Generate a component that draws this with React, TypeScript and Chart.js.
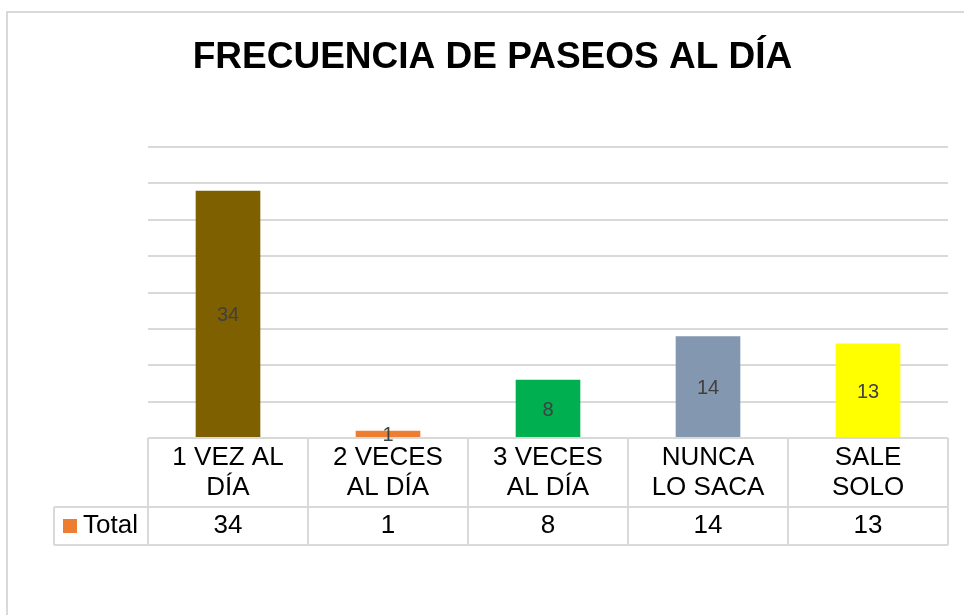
import React, { useEffect, useRef } from "react";
import { Chart, registerables } from "chart.js";

Chart.register(...registerables);

const TITLE = "FRECUENCIA DE PASEOS AL DÍA";
const categories: string[][] = [
  ["1 VEZ AL", "DÍA"],
  ["2 VECES", "AL DÍA"],
  ["3 VECES", "AL DÍA"],
  ["NUNCA", "LO SACA"],
  ["SALE", "SOLO"],
];
const seriesName = "Total";
const totals = [34, 1, 8, 14, 13];
const barColors = ["#7F6000", "#ED7D31", "#00B050", "#8497B0", "#FFFF00"];
const seriesColor = "#ED7D31";
const yMin = 0;
const yMax = 40;
const yStep = 5;

const FONT = "'Liberation Sans', Arial, sans-serif";
const LINE = "#d9d9d9";

const decorPlugin = {
  id: "decor",
  beforeDraw(chart: any) {
    const ctx = chart.ctx;
    ctx.save();
    ctx.strokeStyle = LINE;
    ctx.lineWidth = 2;
    ctx.beginPath();
    ctx.moveTo(7, 640);
    ctx.lineTo(7, 12);
    ctx.lineTo(1000, 12);
    ctx.stroke();

    ctx.fillStyle = "#000";
    ctx.font = `bold 37px ${FONT}`;
    ctx.textAlign = "center";
    ctx.textBaseline = "alphabetic";
    ctx.fillText(TITLE, 492.5, 68);
    ctx.restore();
  },
  afterDraw(chart: any) {
    const ctx = chart.ctx;
    const xs = chart.scales.x;
    const area = chart.chartArea;
    const n = categories.length;
    const colW = (area.right - area.left) / n;
    const top = area.bottom;
    const mid = top + 69;
    const bot = top + 107;
    const legLeft = 54;

    ctx.save();
    ctx.strokeStyle = LINE;
    ctx.lineWidth = 2;
    ctx.beginPath();
    ctx.moveTo(area.left, top);
    ctx.lineTo(area.right, top);
    ctx.moveTo(legLeft, mid);
    ctx.lineTo(area.right, mid);
    ctx.moveTo(legLeft, bot);
    ctx.lineTo(area.right, bot);
    for (let i = 0; i <= n; i++) {
      const x = area.left + i * colW;
      ctx.moveTo(x, top);
      ctx.lineTo(x, bot);
    }
    ctx.moveTo(legLeft, mid);
    ctx.lineTo(legLeft, bot);
    ctx.stroke();

    ctx.fillStyle = "#000";
    ctx.font = `26px ${FONT}`;
    ctx.textAlign = "center";
    ctx.textBaseline = "middle";
    categories.forEach((lines, i) => {
      const cx = xs.getPixelForValue(i);
      lines.forEach((ln, j) => {
        ctx.fillText(ln, cx, top + 20 + j * 30);
      });
      ctx.fillText(String(totals[i]), cx, mid + 19);
    });

    ctx.fillStyle = seriesColor;
    ctx.fillRect(63, mid + 12, 14, 14);
    ctx.fillStyle = "#000";
    ctx.textAlign = "left";
    ctx.fillText(seriesName, 83, mid + 19);

    // data labels
    const meta = chart.getDatasetMeta(0);
    ctx.fillStyle = "#404040";
    ctx.font = `20px ${FONT}`;
    ctx.textAlign = "center";
    meta.data.forEach((bar: any, i: number) => {
      const y = (bar.y + bar.base) / 2 + 2;
      ctx.fillText(String(totals[i]), bar.x, y);
    });
    ctx.restore();
  },
};

export default function App() {
  const ref = useRef<HTMLCanvasElement | null>(null);
  useEffect(() => {
    if (!ref.current) return;
    const chart = new Chart(ref.current, {
      type: "bar",
      data: {
        labels: categories.map((c) => c.join(" ")),
        datasets: [
          {
            label: seriesName,
            data: totals,
            backgroundColor: barColors,
            categoryPercentage: 1,
            barPercentage: 0.404,
          },
        ],
      },
      options: {
        animation: false,
        responsive: false,
        layout: { padding: { left: 148, right: 16, top: 147, bottom: 177 } },
        plugins: {
          legend: { display: false },
          tooltip: { enabled: false },
          title: { display: false },
        },
        scales: {
          x: { display: false },
          y: {
            display: true,
            min: yMin,
            max: yMax,
            ticks: { display: false, stepSize: yStep },
            grid: { color: LINE, lineWidth: 2, drawTicks: false },
            border: { display: false },
          },
        },
      },
      plugins: [decorPlugin],
    });
    return () => chart.destroy();
  }, []);
  return (
    <div style={{ position: "fixed", left: 0, top: 0, width: 964, height: 615, background: "#fff" }}>
      <canvas ref={ref} width={964} height={615} style={{ width: 964, height: 615 }} />
    </div>
  );
}
